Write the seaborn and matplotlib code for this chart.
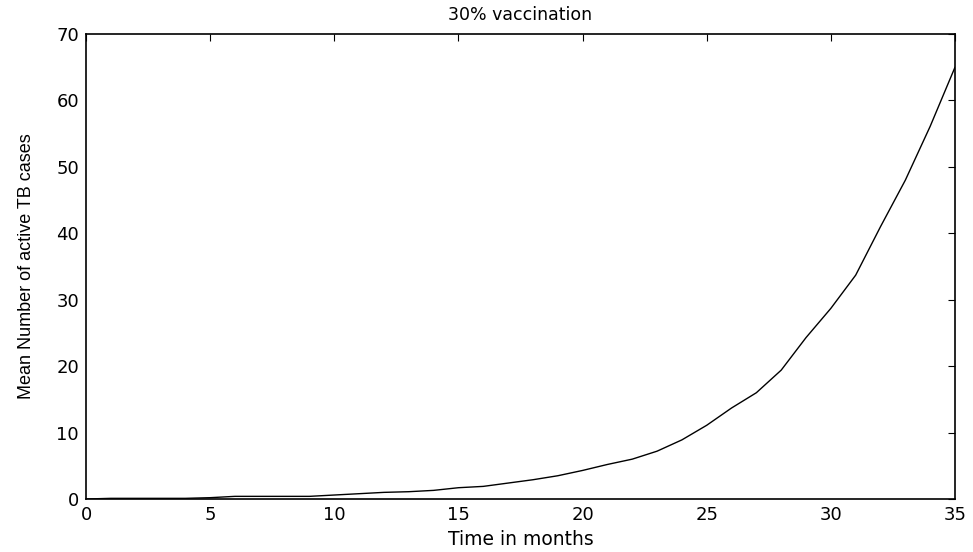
import matplotlib
matplotlib.use("Agg")
import matplotlib.pyplot as plt
import seaborn as sns
import pandas as pd

months = list(range(0, 36))
mean_cases = [0.0, 0.1, 0.1, 0.1, 0.1, 0.2, 0.4, 0.4, 0.4, 0.4,
              0.6, 0.8, 1.0, 1.1, 1.3, 1.7, 1.9, 2.4, 2.9, 3.5,
              4.3, 5.2, 6.0, 7.2, 8.9, 11.1, 13.7, 16.0, 19.4, 24.3,
              28.7, 33.7, 41.0, 48.0, 56.1, 65.0]

x_ticks = [0, 5, 10, 15, 20, 25, 30, 35]
y_ticks = [0, 10, 20, 30, 40, 50, 60, 70]

df = pd.DataFrame({"month": months, "cases": mean_cases})

sns.set_style("white")
plt.rcParams["font.family"] = ["DejaVu Sans"]
plt.rcParams["text.color"] = "black"
plt.rcParams["axes.labelcolor"] = "black"

fig, ax = plt.subplots(figsize=(9.73, 5.52), dpi=100)
fig.subplots_adjust(left=0.0884, right=0.9815, top=0.9384, bottom=0.096)

sns.lineplot(data=df, x="month", y="cases", ax=ax, color="black", linewidth=1.0)

ax.set_xlim(0, 35)
ax.set_ylim(0, 70)
ax.set_xticks(x_ticks)
ax.set_yticks(y_ticks)
ax.tick_params(direction="in", length=5, width=0.8, top=True, right=True,
               labelsize=13, colors="black")
ax.tick_params(axis="x", pad=5)
ax.tick_params(axis="y", pad=5)
for s in ax.spines.values():
    s.set_color("black")
    s.set_linewidth(1.2)
    s.set_visible(True)

ax.set_title("30% vaccination", fontsize=12.5, pad=10)
ax.set_xlabel("Time in months", fontsize=13.5, labelpad=4)
ax.set_ylabel("Mean Number of active TB cases", fontsize=13, labelpad=15,
              family=["Liberation Sans", "DejaVu Sans"])

fig.savefig("out.png", dpi=100)
